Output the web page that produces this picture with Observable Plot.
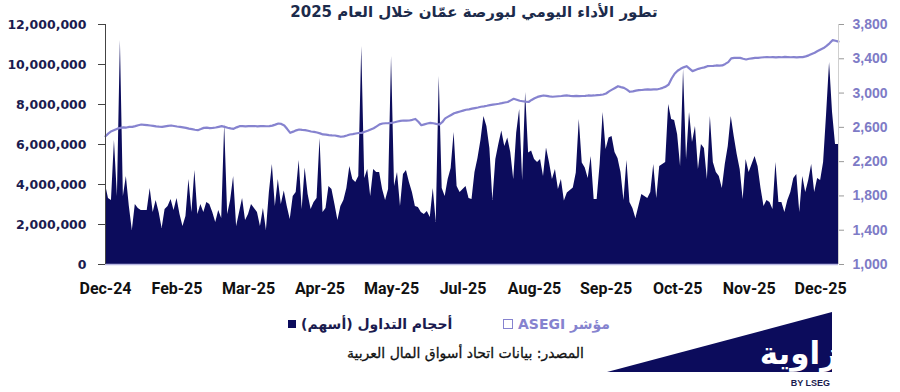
<!DOCTYPE html>
<html><head><meta charset="utf-8">
<script src="https://cdn.jsdelivr.net/npm/d3@7"></script>
<script src="https://cdn.jsdelivr.net/npm/@observablehq/plot@0.6"></script>
<style>
body{margin:0;background:#fff;width:900px;height:392px;overflow:hidden;position:relative;font-family:"DejaVu Sans",sans-serif}
#chart{position:absolute;left:0;top:0}
#title{position:absolute;top:3px;left:0;width:948px;text-align:center;font-weight:bold;font-size:15px;color:#1c2b4b;direction:rtl;font-family:"DejaVu Sans",sans-serif}
.leg{position:absolute;top:316px;display:flex;align-items:center;gap:5px;font-weight:bold;font-size:14px;direction:ltr}
.src{position:absolute;top:345px;right:316px;direction:rtl;font-size:14px;color:#111;-webkit-text-stroke:0.3px #111}
#logo{position:absolute;left:0;top:0}
</style></head><body>
<div id="chart"></div>
<div id="title">تطور الأداء اليومي لبورصة عمّان خلال العام 2025</div>
<div class="leg" style="left:288px;color:#1b1b4f"><span style="display:inline-block;width:8px;height:8px;background:#0c0c5c"></span><span dir="rtl">أحجام التداول (أسهم)</span></div>
<div class="leg" style="left:503px;color:#8683cf"><span style="display:inline-block;width:8px;height:8px;border:1.6px solid #8683cf"></span><span dir="rtl">مؤشر ASEGI</span></div>
<div class="src">المصدر: بيانات اتحاد أسواق المال العربية</div>
<svg id="logo" width="900" height="392">
  <defs><clipPath id="lc"><polygon points="607,372 832,312 832,372"/></clipPath></defs>
  <polygon points="607,372 832,312 832,372" fill="#0c0c5c"/>
  <text x="838" y="364" text-anchor="end" fill="#fff" font-weight="bold" font-size="31" font-family="DejaVu Sans" clip-path="url(#lc)">زاوية</text>
  <text x="830" y="386" text-anchor="end" fill="#1b1b4f" font-weight="bold" font-size="9" font-family="Liberation Sans">BY LSEG</text>
</svg>
<script>
// Daily traded volume (millions of shares), one value per trading day
const volumeMillions = [
 4.0,3.3,3.2,6.2,3.4,11.2,3.4,4.4,2.9,1.7,
 3.0,2.8,2.7,2.7,2.7,3.8,2.6,3.2,2.6,1.8,
 2.75,2.9,3.25,2.7,3.3,2.5,1.9,2.4,4.25,2.6,
 4.7,2.5,3.0,2.6,3.1,3.0,2.6,2.1,2.7,2.3,
 7.0,2.5,3.2,4.4,1.9,2.6,3.3,2.2,2.5,3.0,
 2.8,2.6,1.9,2.8,1.7,3.6,5.0,2.9,4.25,3.0,
 3.67,2.9,2.25,3.4,3.6,5.2,2.75,4.83,3.5,2.75,
 3.1,3.3,6.3,2.6,2.8,3.9,3.75,3.0,2.2,2.9,
 3.2,3.8,4.9,4.25,4.1,4.4,10.9,4.3,4.75,3.4,
 4.75,4.6,4.6,3.75,3.2,3.75,10.4,3.9,4.6,2.9,
 4.5,4.7,4.1,3.6,2.9,2.85,2.6,2.5,2.65,2.35,
 3.8,2.1,9.4,3.8,3.4,4.25,4.8,6.6,3.9,3.6,
 3.75,3.9,3.3,3.25,4.6,5.3,6.2,7.4,6.9,5.8,
 3.2,5.25,6.0,6.67,5.9,6.33,5.6,4.25,6.58,7.75,
 4.2,8.6,5.58,5.67,5.25,5.1,5.25,4.4,5.83,5.1,
 4.25,4.75,3.75,4.25,3.17,3.58,3.7,3.83,4.58,7.25,
 5.08,4.83,4.3,5.4,3.25,3.25,5.0,7.6,5.75,6.33,
 6.4,5.6,5.3,4.6,3.2,5.2,3.1,2.8,2.3,2.9,
 3.5,3.4,3.3,3.6,5.0,3.3,4.9,5.0,5.1,8.0,
 7.25,7.2,6.5,4.9,9.75,5.25,7.6,6.1,6.9,4.75,
 6.0,5.8,4.25,7.4,5.1,4.6,4.4,3.8,5.0,5.9,
 7.4,6.4,5.5,4.75,3.25,5.25,4.6,5.0,5.4,4.9,
 3.8,2.9,3.2,3.1,2.75,5.1,3.1,3.1,2.6,3.2,
 3.6,4.3,4.5,2.6,4.4,3.6,4.2,5.0,3.6,4.3,
 4.2,5.1,7.5,10.1,7.6,6.0,6.0
];
// ASEGI index close, one value per trading day
const asegi = [
 2497,2530,2555,2570,2585,2594,2600,2598,2605,2606,
 2615,2625,2633,2630,2626,2622,2618,2612,2608,2606,
 2612,2618,2622,2616,2610,2606,2600,2594,2585,2580,
 2572,2567,2580,2594,2596,2592,2594,2598,2606,2614,
 2605,2596,2588,2583,2600,2614,2615,2612,2614,2614,
 2616,2612,2614,2615,2613,2614,2620,2632,2645,2640,
 2622,2580,2536,2550,2565,2575,2570,2567,2560,2552,
 2548,2540,2530,2517,2515,2510,2506,2505,2498,2490,
 2495,2505,2517,2522,2528,2534,2536,2548,2560,2575,
 2590,2612,2635,2645,2648,2650,2653,2660,2668,2675,
 2680,2678,2680,2688,2698,2665,2625,2635,2645,2653,
 2648,2640,2633,2660,2705,2725,2745,2765,2775,2785,
 2795,2805,2810,2818,2825,2832,2840,2845,2852,2860,
 2865,2870,2875,2882,2890,2896,2915,2933,2922,2910,
 2905,2900,2896,2920,2940,2955,2965,2972,2968,2962,
 2957,2960,2963,2966,2970,2972,2968,2965,2967,2964,
 2966,2968,2972,2970,2972,2975,2978,2983,2995,3020,
 3040,3060,3080,3070,3061,3040,3015,3020,3028,3034,
 3036,3040,3042,3040,3042,3042,3050,3061,3075,3100,
 3170,3225,3260,3283,3300,3314,3285,3256,3270,3283,
 3292,3300,3314,3316,3318,3322,3320,3322,3340,3361,
 3405,3411,3410,3411,3400,3392,3400,3405,3410,3411,
 3415,3418,3420,3418,3420,3416,3420,3418,3422,3420,
 3418,3420,3416,3420,3420,3428,3440,3455,3470,3490,
 3508,3525,3550,3580,3617,3610,3600
];
const tickLabels = ["Dec-24","Feb-25","Mar-25","Apr-25","May-25","Jul-25","Aug-25","Sep-25","Oct-25","Nov-25","Dec-25"];
const leftTicks = [0,2000000,4000000,6000000,8000000,10000000,12000000];
const rightTicks = [1000,1400,1800,2200,2600,3000,3400,3800];
const labelEvery = 24;

const rMin = 1000, rMax = 3800, lMax = 12000000;
const toY = v => (v - rMin) / (rMax - rMin) * lMax;
const fromY = y => rMin + y / lMax * (rMax - rMin);

const data = volumeMillions.map((v, i) => ({i, vol: v * 1e6, idx: asegi[i]}));
const n = data.length;

const chart = Plot.plot({
  width: 900, height: 300,
  marginLeft: 105, marginRight: 62, marginTop: 24, marginBottom: 36,
  x: {domain: [0, n - 1]},
  y: {domain: [0, lMax]},
  style: {background: "transparent", overflow: "visible"},
  marks: [
    Plot.areaY(data, {x: "i", y: "vol", fill: "#0c0c5c"}),
    Plot.lineY(data, {x: "i", y: d => toY(d.idx), stroke: "#8683cf", strokeWidth: 2.2}),
    Plot.ruleY([0], {stroke: "#b9b8e2", strokeWidth: 1.5}),
    Plot.ruleX([0], {stroke: "#444", strokeWidth: 1}),
    Plot.ruleX([n - 1], {stroke: "#cfcfcf", strokeWidth: 1}),
    Plot.axisY(leftTicks, {anchor: "left", tickFormat: d3.format(","), tickSize: 7, tickPadding: 12,
      stroke: "#444", fill: "#1b1b4f", fontSize: 12.5, fontWeight: "bold", fontFamily: "DejaVu Sans", label: null}),
    Plot.axisY(rightTicks.map(toY), {anchor: "right", tickFormat: d => d3.format(",")(Math.round(fromY(d))),
      tickSize: 5, tickPadding: 9, stroke: "#999", fill: "#7e7bc6", fontSize: 14, fontWeight: "bold",
      fontFamily: "Liberation Sans", label: null}),
    Plot.axisX(tickLabels.map((_, k) => k * labelEvery), {tickFormat: d => tickLabels[d / labelEvery],
      tickSize: 0, tickPadding: 18, fill: "#111", fontSize: 16, fontWeight: "bold", fontFamily: "Roboto", label: null})
  ]
});
document.getElementById("chart").appendChild(chart);
</script>
</body></html>
